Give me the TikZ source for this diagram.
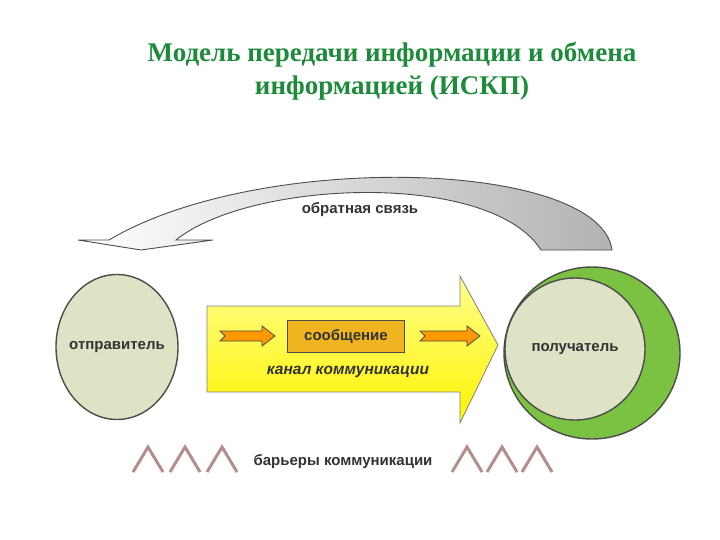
\documentclass[tikz,border=0pt]{standalone}
\usepackage{fontspec}
\usetikzlibrary{shapes.geometric}
\setmainfont{Liberation Serif}
\newfontfamily\sansf{Liberation Sans}
\begin{document}
\begin{tikzpicture}[x=1pt,y=-1pt,
  lbl/.style={font=\sansf\bfseries\fontsize{15}{18}\selectfont, text=black!80},
  circ/.style={draw=black!70, line width=1.4pt, fill=circfill},
  chev/.style={draw=chevc, line width=3pt, line join=miter},
  chevin/.style={draw=black!40, line width=0.8pt},
  smallarrow/.style={draw=black!70, fill=orange!80!yellow, line width=0.8pt}]
\definecolor{circfill}{HTML}{DDE3C4}
\definecolor{titlec}{HTML}{1E8A3C}
\definecolor{chevc}{HTML}{C08A88}
\definecolor{msgc}{HTML}{F0B420}
\definecolor{crescent}{HTML}{7CC242}
\useasboundingbox (0,0) rectangle (720,540);
% title
\node[text=titlec, font=\bfseries\fontsize{27}{33}\selectfont, align=center] (title) at (392,71)
  {Модель передачи информации и обмена\\информацией (ИСКП)};
% feedback arrow
\shade[left color=white, right color=black!30, draw=black!70, line width=0.9pt]
  (541,250) -- (612,250) .. controls (600,160) and (260,150) .. (109,240)
  -- (78,240) -- (141,250) -- (213,240) -- (176,240)
  .. controls (250,180) and (490,170) .. (541,250) -- cycle;
\node[lbl] (fb) at (360,210) {обратная связь};
% sender
\node[circ, ellipse, minimum width=122pt, minimum height=145pt, inner sep=0pt] (snd) at (117,347) {};
\node[lbl] at (snd) {отправитель};
% receiver
\fill[draw=black!70, line width=1.4pt, fill=crescent] (592,353) ellipse [x radius=88, y radius=86];
\node[circ, minimum width=140pt, minimum height=142pt, inner sep=0pt, ellipse] (rcv) at (575,349) {};
\node[lbl] at (rcv) {получатель};
% channel arrow
\shade[top color=yellow!45, bottom color=yellow!90!orange, draw=black!50, line width=0.8pt]
  (207,306) -- (460,306) -- (460,276) -- (498,345) -- (460,423) -- (460,392) -- (207,392) -- cycle;
\node[draw=black!70, fill=msgc, line width=1pt, minimum width=117pt, minimum height=32pt, lbl] (msg) at (346,336) {сообщение};
\path[smallarrow] (220,331) -- (262,331) -- (262,326) -- (275,336) -- (262,346) -- (262,341) -- (220,341) -- (225,336) -- cycle;
\path[smallarrow] (420,331) -- (467,331) -- (467,326) -- (480,336) -- (467,346) -- (467,341) -- (420,341) -- (425,336) -- cycle;
\node[font=\sansf\bfseries\itshape\fontsize{15.5}{18}\selectfont, text=black!80] (ch) at (348,372) {канал коммуникации};
% barriers
\foreach \x in {133,170,207,452,487,522} {
  \draw[chev] (\x,472) -- (\x+15,447) -- (\x+30,472);
  \draw[chevin] (\x,472) -- (\x+15,447) -- (\x+30,472);
}
\node[lbl] (bar) at (343,462) {барьеры коммуникации};
\end{tikzpicture}
\end{document}
